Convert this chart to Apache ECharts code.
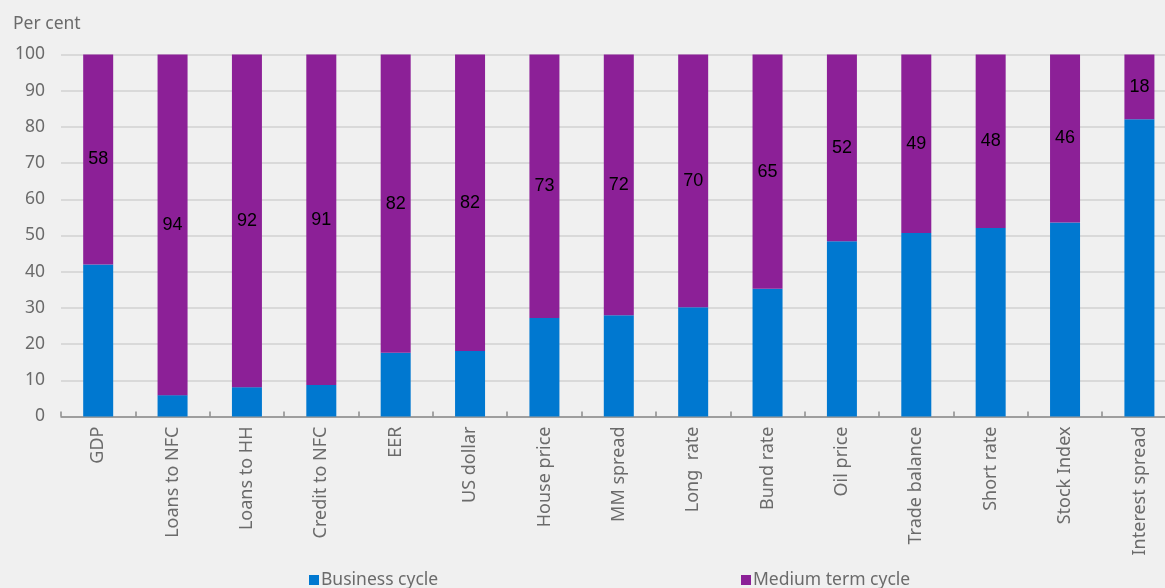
<!DOCTYPE html>
<html>
<head>
<meta charset="utf-8">
<script src="https://cdn.jsdelivr.net/npm/echarts@6/dist/echarts.min.js"></script>
<style>
html,body{margin:0;padding:0;background:#f0f0f0;overflow:hidden;width:1165px;height:588px;}
#chart{width:1177px;height:588px;}
</style>
</head>
<body>
<div id="chart"></div>
<script>
const categories = ["GDP","Loans to NFC","Loans to HH","Credit to NFC","EER","US dollar","House price","MM spread","Long  rate","Bund rate","Oil price","Trade balance","Short rate","Stock Index","Interest spread"];
const businessCycle = [42.0, 5.9, 8.1, 8.7, 17.6, 18.1, 27.2, 28.0, 30.2, 35.3, 48.4, 50.7, 52.1, 53.6, 82.1];
const mediumTermCycle = [58.0, 94.1, 91.9, 91.3, 82.4, 81.9, 72.8, 72.0, 69.8, 64.7, 51.6, 49.3, 47.9, 46.4, 17.9];
const yTicks = [0,10,20,30,40,50,60,70,80,90,100];

const FONT = "Noto Sans";
const chart = echarts.init(document.getElementById('chart'), null, {renderer:'canvas'});
chart.setOption({
  backgroundColor: '#f0f0f0',
  animation: false,
  textStyle: {fontFamily: FONT},
  title: {
    text: 'Per cent', left: 8, top: 10,
    textStyle: {fontFamily: FONT, fontSize: 17.5, fontWeight: 'normal', color: '#6b6b6b'}
  },
  legend: [
    {
      data: ['Business cycle'], left: 304, top: 566,
      itemWidth: 10, itemHeight: 10, itemGap: 0,
      icon: 'rect',
      textStyle: {fontFamily: FONT, fontSize: 17.5, color: '#6b6b6b', padding: [0,0,0,-3]}
    },
    {
      data: ['Medium term cycle'], left: 736, top: 566,
      itemWidth: 10, itemHeight: 10, itemGap: 0,
      icon: 'rect',
      textStyle: {fontFamily: FONT, fontSize: 17.5, color: '#6b6b6b', padding: [0,0,0,-3]}
    }
  ],
  grid: {left: 61, top: 54.5, right: 0.4, height: 362},
  xAxis: {
    type: 'category',
    data: categories,
    boundaryGap: true,
    axisLine: {lineStyle: {color: '#8a8a8a', width: 1.5}},
    axisTick: {show: true, inside: true, length: 5, alignWithLabel: false, lineStyle: {color: '#8a8a8a', width: 1.5}},
    axisLabel: {
      rotate: 90, margin: 10, interval: 0,
      fontFamily: FONT, fontSize: 18, color: '#6b6b6b'
    }
  },
  yAxis: {
    type: 'value', min: 0, max: 100, interval: 10,
    axisLine: {show: false}, axisTick: {show: false},
    splitLine: {lineStyle: {color: '#d2d2d2', width: 1.5}},
    axisLabel: {
      fontFamily: FONT, fontSize: 17.5, color: '#6b6b6b', margin: 16,
      formatter: v => yTicks.includes(v) ? String(v) : ''
    }
  },
  series: [
    {
      name: 'Business cycle', type: 'bar', stack: 'total',
      data: businessCycle, barWidth: 30,
      itemStyle: {color: '#0078d0'}
    },
    {
      name: 'Medium term cycle', type: 'bar', stack: 'total',
      data: mediumTermCycle, barWidth: 30,
      itemStyle: {color: '#8c2097'},
      label: {
        show: true, position: 'inside',
        fontFamily: 'Liberation Sans', fontSize: 18, color: '#000',
        formatter: p => String(Math.round(p.value))
      }
    }
  ]
});
</script>
</body>
</html>
